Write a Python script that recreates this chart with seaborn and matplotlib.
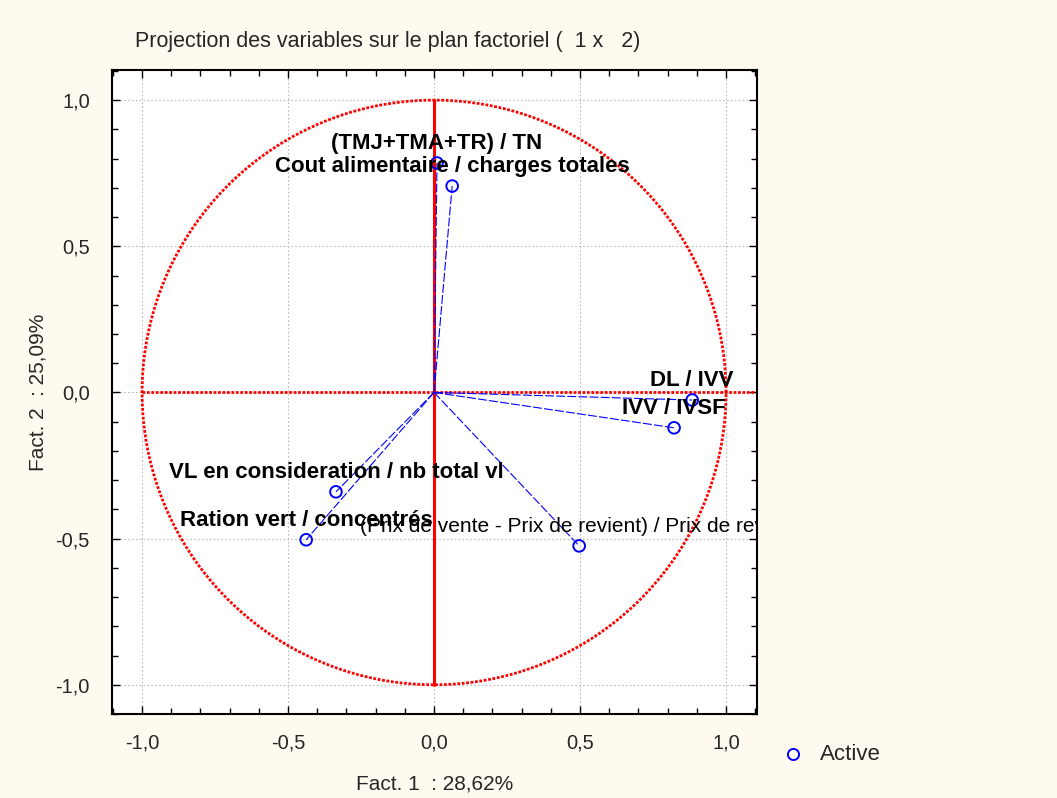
import numpy as np
import pandas as pd
import matplotlib
matplotlib.use("Agg")
import matplotlib.pyplot as plt
import seaborn as sns
from matplotlib.ticker import MultipleLocator, FuncFormatter

variables = ["(TMJ+TMA+TR) / TN",
             "Cout alimentaire / charges totales",
             "DL / IVV",
             "IVV / IVSF",
             "VL en consideration / nb total vl",
             "Ration vert / concentrés",
             "(Prix de vente - Prix de revient) / Prix de revient"]
fact1 = [0.01, 0.062, 0.884, 0.822, -0.336, -0.438, 0.497]
fact2 = [0.785, 0.706, -0.026, -0.121, -0.340, -0.504, -0.525]
bold = [True, True, True, True, True, True, False]

df = pd.DataFrame({"var": variables, "f1": fact1, "f2": fact2, "bold": bold})

sns.set_style("white")
plt.rcParams['font.family'] = ['Liberation Sans', 'DejaVu Sans']

fig = plt.figure(figsize=(10.57, 7.98), dpi=100, facecolor="#fffaf0")
ax = fig.add_axes([112/1057, 1-714/798, (757-112)/1057, (714-70)/798])
ax.set_facecolor("white")
ax.set_xlim(-1.103, 1.106)
ax.set_ylim(-1.1, 1.103)

# grid
for v in [-1.0, -0.5, 0.0, 0.5, 1.0]:
    ax.axvline(v, color="#bbbbbb", ls=(0, (1.5, 2)), lw=0.8, zorder=0)
    ax.axhline(v, color="#bbbbbb", ls=(0, (1.5, 2)), lw=0.8, zorder=0)

# unit circle
t = np.linspace(0, 2*np.pi, 400)
ax.plot(np.cos(t), np.sin(t), color="red", ls=(0, (1, 0.6)), lw=2, zorder=2)
ax.plot([-1, 1.106], [0, 0], color="red", ls=(0, (1, 0.6)), lw=2, zorder=2)
ax.plot([0, 0], [-1, 1], color="red", lw=2.2, zorder=2)

# vectors
for x, y in zip(df.f1, df.f2):
    ax.plot([0, x], [0, y], color="blue", lw=0.8, ls=(0, (8, 2)), zorder=3)

sns.scatterplot(data=df, x="f1", y="f2", ax=ax, marker="o", s=70,
                facecolors="none", edgecolor="blue", linewidth=1.4, zorder=4,
                legend=False)

for _, r in df.iterrows():
    ax.text(r.f1, r.f2 + 0.067, r["var"], ha="center", va="center",
            fontsize=16 if r.bold else 15, fontweight="bold" if r.bold else "normal",
            color="black", clip_on=True, zorder=5)

ax.xaxis.set_major_locator(MultipleLocator(0.5))
ax.yaxis.set_major_locator(MultipleLocator(0.5))
ax.xaxis.set_minor_locator(MultipleLocator(0.1))
ax.yaxis.set_minor_locator(MultipleLocator(0.1))
fmt = FuncFormatter(lambda v, p: f"{v:.1f}".replace(".", ","))
ax.xaxis.set_major_formatter(fmt)
ax.yaxis.set_major_formatter(fmt)
ax.tick_params(which="both", direction="in", top=True, right=True,
               bottom=True, left=True, color="black")
ax.tick_params(which="major", length=6, width=1, labelsize=14.5)
ax.tick_params(axis="x", which="major", pad=14)
ax.tick_params(axis="y", which="major", pad=16)
ax.tick_params(which="minor", length=4, width=1)
for s in ax.spines.values():
    s.set_color("black")
    s.set_linewidth(1.5)

ax.set_xlabel("Fact. 1  : 28,62%", fontsize=15, labelpad=16)
ax.set_ylabel("Fact. 2  : 25,09%", fontsize=15, labelpad=6)
fig.text(135/1057, 1-42/798, "Projection des variables sur le plan factoriel (  1 x   2)",
         fontsize=15.5, ha="left", va="center")

# legend
fig.lines.append(plt.Line2D([793/1057], [1-754/798], transform=fig.transFigure,
                            marker="o", ms=8, mfc="none", mec="blue", mew=1.4, ls=""))
fig.text(820/1057, 1-754/798, "Active", fontsize=16, ha="left", va="center")

fig.savefig("out.png", dpi=100, facecolor=fig.get_facecolor())
